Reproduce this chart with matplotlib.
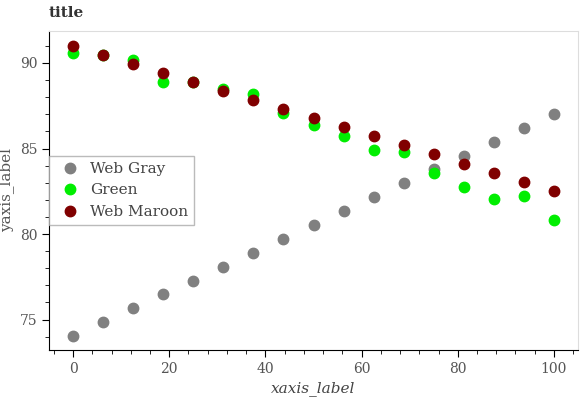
import matplotlib.pyplot as plt
from matplotlib.ticker import MultipleLocator

plt.rcParams['font.family'] = ['DejaVu Serif']

x = [0, 6.25, 12.5, 18.75, 25, 31.25, 37.5, 43.75, 50, 56.25, 62.5, 68.75, 75, 81.25, 87.5, 93.75, 100]
web_gray = [74.04, 74.86, 75.65, 76.47, 77.27, 78.09, 78.9, 79.7, 80.53, 81.35, 82.15, 82.96, 83.78, 84.58, 85.4, 86.2, 87.0]
green = [90.6, 90.47, 90.18, 88.9, 88.9, 88.46, 88.17, 87.06, 86.37, 85.71, 84.91, 84.78, 83.57, 82.73, 82.05, 82.24, 80.82]
web_maroon = [91.01, 90.47, 89.94, 89.42, 88.9, 88.38, 87.82, 87.31, 86.77, 86.24, 85.71, 85.19, 84.66, 84.11, 83.58, 83.06, 82.53]

fig = plt.figure(figsize=(5.83, 4), dpi=100)
ax = fig.add_axes([49 / 583, 50 / 400, 529 / 583, 319 / 400])

series = [("Web Gray", web_gray, "#808080"), ("Green", green, "#00ee00"), ("Web Maroon", web_maroon, "#800000")]
for name, y, c in series:
    ax.plot(x, y, "o", color=c, markersize=7.5, label=name)

ax.set_xlim(-5, 105)
ax.set_ylim(73.22, 91.87)
ax.set_xticks([0, 20, 40, 60, 80, 100])
ax.set_yticks([75, 80, 85, 90])
ax.xaxis.set_minor_locator(MultipleLocator(4))
ax.yaxis.set_minor_locator(MultipleLocator(1))
ax.tick_params(which="major", length=5, labelcolor="#555555", labelsize=10)
ax.tick_params(which="minor", length=3)
for s in ("top", "right"):
    ax.spines[s].set_color("#dddddd")
ax.set_xlabel("xaxis_label", style="italic", color="#444444", fontsize=11)
ax.set_ylabel("yaxis_label", color="#555555", fontsize=11)
ax.set_title("title", loc="left", fontsize=11, fontweight="bold", color="#333333", pad=10)

leg = ax.legend(loc="center left", bbox_to_anchor=(0.0, 0.5), frameon=True, fancybox=False,
                edgecolor="#aaaaaa", fontsize=11, handletextpad=0.3, borderaxespad=0)
for t in leg.get_texts():
    t.set_color("#444444")

fig.savefig("out.png", dpi=100)
